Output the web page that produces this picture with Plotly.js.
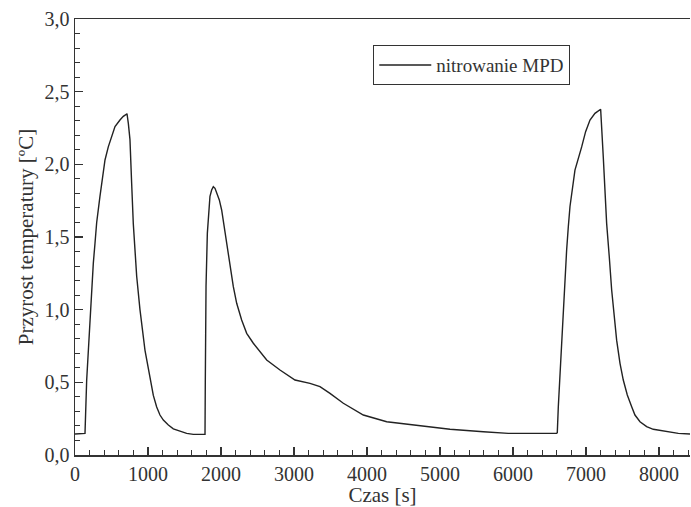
<!DOCTYPE html>
<html>
<head>
<meta charset="utf-8">
<script src="https://cdn.plot.ly/plotly-3.0.1.min.js"></script>
<style>html,body{margin:0;padding:0;background:#fff;}#chart{width:691px;height:507px;}</style>
</head>
<body>
<div id="chart"></div>
<script>
const seriesName = "nitrowanie MPD";
const timeS = [0, 130, 137, 160, 182, 205, 228, 251, 274, 297, 342, 374, 411, 456, 502, 548, 616, 662, 708, 712, 731, 753, 776, 799, 845, 890, 959, 1027, 1073, 1119, 1164, 1210, 1279, 1347, 1438, 1530, 1621, 1781,
  1785, 1795, 1813, 1849, 1872, 1895, 1918, 1941, 1977, 2009, 2078, 2123, 2169, 2215, 2283, 2352, 2443, 2626, 2808, 3014, 3219, 3356, 3493, 3676, 3950, 4270, 4634, 4840, 5137, 5594, 5936, 6598,
  6607, 6621, 6644, 6667, 6690, 6712, 6735, 6758, 6781, 6849, 6895, 6941, 6995, 7055, 7123, 7192, 7201, 7237, 7260, 7283, 7319, 7352, 7420, 7466, 7511, 7566, 7626, 7671, 7740, 7831, 7922, 8105, 8265, 8425];
const deltaT = [0.145, 0.145, 0.149, 0.516, 0.72, 0.95, 1.135, 1.32, 1.457, 1.60, 1.78, 1.915, 2.03, 2.12, 2.19, 2.26, 2.305, 2.33, 2.346, 2.35, 2.28, 2.17, 1.87, 1.59, 1.23, 1.0, 0.72, 0.52, 0.41, 0.33, 0.275, 0.24, 0.206, 0.18, 0.167, 0.149, 0.142, 0.142,
  0.5, 1.16, 1.525, 1.78, 1.823, 1.846, 1.835, 1.80, 1.755, 1.686, 1.457, 1.296, 1.158, 1.044, 0.929, 0.837, 0.769, 0.654, 0.585, 0.516, 0.493, 0.470, 0.424, 0.356, 0.275, 0.229, 0.206, 0.195, 0.177, 0.16, 0.149, 0.149,
  0.153, 0.332, 0.562, 0.79, 1.02, 1.227, 1.41, 1.571, 1.71, 1.96, 2.05, 2.12, 2.225, 2.305, 2.351, 2.374, 2.379, 2.05, 1.823, 1.594, 1.364, 1.135, 0.79, 0.631, 0.516, 0.413, 0.332, 0.275, 0.229, 0.195, 0.177, 0.16, 0.149, 0.145];
const xTickVals = [0, 1000, 2000, 3000, 4000, 5000, 6000, 7000, 8000];
const yTickVals = [0, 0.5, 1.0, 1.5, 2.0, 2.5, 3.0];
const yTickText = ["0,0", "0,5", "1,0", "1,5", "2,0", "2,5", "3,0"];

const fontFam = "Liberation Serif, Times New Roman, serif";
const trace = {
  x: timeS, y: deltaT, type: "scatter", mode: "lines", name: seriesName,
  line: {color: "#222", width: 1.4}
};
const layout = {
  width: 691, height: 507,
  margin: {l: 75, r: 1, t: 19, b: 52},
  paper_bgcolor: "#fff", plot_bgcolor: "#fff",
  font: {family: fontFam, size: 20, color: "#333"},
  showlegend: true,
  legend: {x: 0.485, y: 0.94, xanchor: "left", yanchor: "top", bordercolor: "#333", borderwidth: 1,
    bgcolor: "#fff", font: {family: fontFam, size: 19, color: "#333"}, itemwidth: 52},
  xaxis: {
    range: [0, 8425], showgrid: false, zeroline: false, showline: true, linecolor: "#333", linewidth: 1.5, mirror: true,
    tickvals: xTickVals, ticks: "inside", ticklen: 8, tickwidth: 1.2, tickcolor: "#333",
    minor: {dtick: 200, ticks: "inside", ticklen: 5, tickwidth: 1, tickcolor: "#333", showgrid: false},
    title: {text: "Czas [s]", font: {family: fontFam, size: 21, color: "#333"}, standoff: 3},
    tickfont: {family: fontFam, size: 20, color: "#333"}
  },
  yaxis: {
    range: [0, 3.0], showgrid: false, zeroline: false, showline: true, linecolor: "#333", linewidth: 1.5,
    tickvals: yTickVals, ticktext: yTickText, ticks: "inside", ticklen: 8, tickwidth: 1.2, tickcolor: "#333",
    minor: {dtick: 0.1, ticks: "inside", ticklen: 5, tickwidth: 1, tickcolor: "#333", showgrid: false},
    title: {text: "Przyrost temperatury [ºC]", font: {family: fontFam, size: 21, color: "#333"}, standoff: 5},
    tickfont: {family: fontFam, size: 20, color: "#333"}
  }
};
Plotly.newPlot("chart", [trace], layout, {displayModeBar: false, staticPlot: true});
</script>
</body>
</html>
